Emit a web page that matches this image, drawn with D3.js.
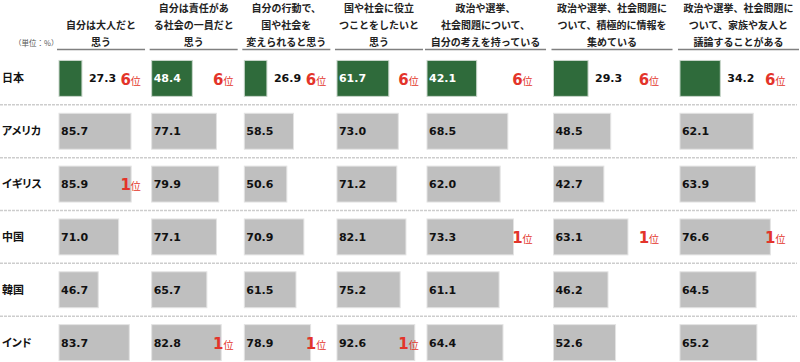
<!DOCTYPE html>
<html>
<head>
<meta charset="utf-8">
<script src="https://cdn.jsdelivr.net/npm/d3@7"></script>
<style>
  body { margin: 0; background: #fff; }
  svg text { font-family: "Noto Sans CJK JP", "Noto Sans", sans-serif; }
  .rowlab { font-feature-settings: "palt"; }
  .num { font-family: "DejaVu Sans", Verdana, sans-serif !important; font-weight: bold; font-size: 11px; }
</style>
</head>
<body>
<svg id="chart"></svg>
<script>
// data
const countries = ['日本', 'アメリカ', 'イギリス', '中国', '韓国', 'インド'];
const questions = [
  '自分は大人だと\n思う',
  '自分は責任があ\nる社会の一員だと\n思う',
  '自分の行動で、\n国や社会を\n変えられると思う',
  '国や社会に役立\nつことをしたいと\n思う',
  '政治や選挙、\n社会問題について、\n自分の考えを持っている',
  '政治や選挙、社会問題に\nついて、積極的に情報を\n集めている',
  '政治や選挙、社会問題に\nついて、家族や友人と\n議論することがある'
];
// one array per question, same order as countries
const q1 = [27.3, 85.7, 85.9, 71.0, 46.7, 83.7];
const q2 = [48.4, 77.1, 79.9, 77.1, 65.7, 82.8];
const q3 = [26.9, 58.5, 50.6, 70.9, 61.5, 78.9];
const q4 = [61.7, 73.0, 71.2, 82.1, 75.2, 92.6];
const q5 = [42.1, 68.5, 62.0, 73.3, 61.1, 64.4];
const q6 = [29.3, 48.5, 42.7, 63.1, 46.2, 52.6];
const q7 = [34.2, 62.1, 63.9, 76.6, 64.5, 65.2];
const japanRank = [6, 6, 6, 6, 6, 6, 6];
const topCountry = ['イギリス', 'インド', 'インド', 'インド', '中国', '中国', '中国'];
const unitLabel = '（単位：%）';

const series = [q1, q2, q3, q4, q5, q6, q7];

class RankTable {

  constructor(_config) {
    this.config = {
      parentElement: _config.parentElement,
      containerWidth: _config.containerWidth || 800,
      containerHeight: _config.containerHeight || 362,
      wideFrom: 4
    };
    this.initVis();
  }

  initVis() {
    let vis = this;

    vis.svg = d3.select(vis.config.parentElement)
      .attr('width', vis.config.containerWidth)
      .attr('height', vis.config.containerHeight);

    vis.narrowCols = questions.slice(0, vis.config.wideFrom).map((d, i) => i);
    vis.wideCols = questions.slice(vis.config.wideFrom).map((d, i) => i + vis.config.wideFrom);

    // two groups of columns, the last three are wider
    vis.xNarrow = d3.scaleBand().domain(vis.narrowCols).range([57, 423]).paddingInner(0.05);
    vis.xWide = d3.scaleBand().domain(vis.wideCols).range([425, 799]).paddingInner(0.043);
    vis.valNarrow = d3.scaleLinear().domain([0, 100]).range([0, 84]);
    vis.valWide = d3.scaleLinear().domain([0, 100]).range([0, 118]);

    vis.y = d3.scaleBand().domain(countries).range([52, 369])
      .paddingInner(0.32).paddingOuter(0.16);

    vis.updateVis();
  }

  colX(i) { return i < this.config.wideFrom ? this.xNarrow(i) : this.xWide(i); }
  colW(i) { return i < this.config.wideFrom ? this.xNarrow.bandwidth() : this.xWide.bandwidth(); }
  valW(i, v) { return i < this.config.wideFrom ? this.valNarrow(v) : this.valWide(v); }

  updateVis() {
    let vis = this;
    const fmt = d3.format('.1f');
    const step = vis.y.step();

    // row separators
    vis.svg.selectAll('.sep')
      .data(countries.slice(1))
      .join('line')
      .attr('class', 'sep')
      .attr('x1', 0).attr('x2', 797)
      .attr('y1', d => vis.y(d) - vis.y.paddingInner() * step / 2)
      .attr('y2', d => vis.y(d) - vis.y.paddingInner() * step / 2)
      .attr('stroke', '#cdcdcd')
      .attr('stroke-width', 1.5)
      .attr('stroke-dasharray', '3,1');

    // headers
    const head = vis.svg.selectAll('.head')
      .data(questions)
      .join('g')
      .attr('class', 'head')
      .attr('transform', (d, i) => `translate(${vis.colX(i)},0)`);

    head.append('line')
      .attr('x1', 0).attr('x2', (d, i) => vis.colW(i))
      .attr('y1', 49.5).attr('y2', 49.5)
      .attr('stroke', '#808080')
      .attr('stroke-width', 1.5);

    head.each(function(d, i) {
      const lines = d.split('\n');
      d3.select(this).selectAll('text')
        .data(lines)
        .join('text')
        .attr('x', vis.colW(i) / 2)
        .attr('y', (l, j) => 45.5 - (lines.length - 1 - j) * 17)
        .attr('text-anchor', 'middle')
        .attr('font-size', 10)
        .attr('font-weight', 'bold')
        .attr('fill', '#222')
        .text(l => l);
    });

    vis.svg.append('text')
      .attr('x', 14).attr('y', 46)
      .attr('font-size', 7.5)
      .attr('fill', '#555')
      .text(unitLabel);

    // row labels
    vis.svg.selectAll('.rowlab')
      .data(countries)
      .join('text')
      .attr('class', 'rowlab')
      .attr('x', 2)
      .attr('y', d => vis.y(d) + vis.y.bandwidth() / 2)
      .attr('dy', '0.36em')
      .attr('font-size', 11)
      .attr('font-weight', 'bold')
      .attr('fill', '#111')
      .text(d => d);

    // bars
    const cells = [];
    series.forEach((vals, i) => {
      vals.forEach((v, j) => cells.push({ col: i, country: countries[j], value: v, japan: j === 0 }));
    });

    vis.svg.selectAll('.bar')
      .data(cells)
      .join('rect')
      .attr('class', 'bar')
      .attr('x', d => vis.colX(d.col) + 2)
      .attr('y', d => vis.y(d.country))
      .attr('width', d => vis.valW(d.col, d.value))
      .attr('height', vis.y.bandwidth())
      .attr('fill', d => d.japan ? '#2f6b3b' : '#bfbfbf')
      .attr('stroke', d => d.japan ? '#c9d6cb' : '#e3e3e3')
      .attr('stroke-width', 1);

    vis.svg.selectAll('.val')
      .data(cells)
      .join('text')
      .attr('class', 'val num')
      .attr('x', d => {
        const x0 = vis.colX(d.col) + 2;
        if (d.japan && d.value < 40) return x0 + vis.valW(d.col, d.value) + 7;
        return x0 + 2;
      })
      .attr('y', d => vis.y(d.country) + vis.y.bandwidth() / 2)
      .attr('dy', '0.36em')
      .attr('fill', d => (d.japan && d.value >= 40) ? '#fff' : '#111')
      .text(d => fmt(d.value));

    // rank labels
    const ranks = [];
    series.forEach((vals, i) => {
      ranks.push({ col: i, country: countries[0], rank: japanRank[i] });
      ranks.push({ col: i, country: topCountry[i], rank: 1 });
    });

    const rk = vis.svg.selectAll('.rank')
      .data(ranks)
      .join('text')
      .attr('class', 'rank')
      .attr('x', d => vis.colX(d.col) + vis.colW(d.col) * 0.72)
      .attr('y', d => vis.y(d.country) + vis.y.bandwidth() / 2)
      .attr('dy', '0.4em')
      .attr('fill', '#e3342a');

    rk.append('tspan')
      .attr('font-family', '"DejaVu Sans", Verdana, sans-serif')
      .attr('font-weight', 'bold')
      .attr('font-size', 15)
      .text(d => d.rank);
    rk.append('tspan')
      .attr('font-size', 10)
      .text('位');
  }
}

new RankTable({ parentElement: '#chart' });
</script>
</body>
</html>
